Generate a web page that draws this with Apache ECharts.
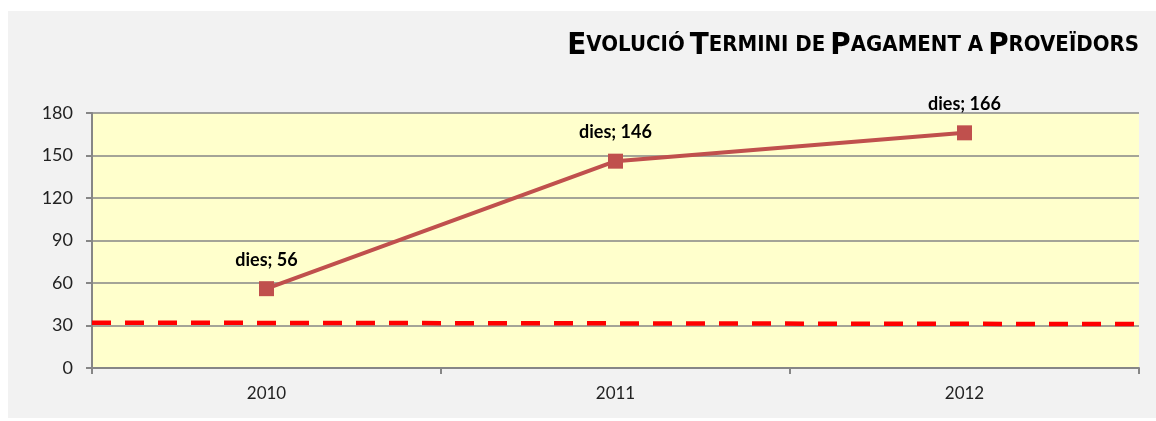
<!DOCTYPE html>
<html>
<head>
<meta charset="utf-8">
<script src="https://cdn.jsdelivr.net/npm/echarts@6/dist/echarts.min.js"></script>
<style>
  html, body { margin: 0; padding: 0; background: #ffffff; }
  #chart { width: 1156px; height: 421px; }
</style>
</head>
<body>
<div id="chart"></div>
<script>
// dades del gràfic
var years = ['2010', '2011', '2012'];
var dies = [56, 146, 166];
var yTicks = [0, 30, 60, 90, 120, 150, 180];
// línia de referència (discontínua vermella)
var refX = [0, 1];
var refY = [32, 31];

var titleFont = "'Liberation Sans Narrow', 'DejaVu Sans Condensed', Lato";

var myChart = echarts.init(document.getElementById('chart'));

var option = {
  backgroundColor: '#ffffff',
  animation: false,
  graphic: [{
    type: 'rect',
    z: -10,
    shape: { x: 8, y: 11, width: 1148, height: 407 },
    style: { fill: '#f2f2f2' }
  }],
  title: {
    right: 12,
    top: 25,
    text: '{b|E}{s|VOLUCIÓ} {b|T}{s|ERMINI DE} {b|P}{s|AGAMENT A} {b|P}{s|ROVEÏDORS}',
    textStyle: {
      rich: {
        b: { fontSize: 31, fontWeight: 'bold', fontFamily: titleFont, color: '#000' },
        s: { fontSize: 22, fontWeight: 'bold', fontFamily: titleFont, color: '#000' }
      }
    }
  },
  grid: [
    { left: 92, right: 17, top: 113, bottom: 53, show: true, backgroundColor: '#ffffcc', borderWidth: 0 },
    { left: 92, right: 13, top: 113, bottom: 53 }
  ],
  xAxis: [
    {
      type: 'category',
      gridIndex: 0,
      data: years,
      boundaryGap: true,
      axisLine: { lineStyle: { color: '#868686', width: 2 } },
      axisTick: { show: true, length: 6, lineStyle: { color: '#868686', width: 2 } },
      axisLabel: { color: '#222', fontSize: 17, fontFamily: 'Lato', margin: 17 }
    },
    { type: 'value', gridIndex: 1, min: 0, max: 1, show: false }
  ],
  yAxis: [
    {
      type: 'value',
      gridIndex: 0,
      min: 0,
      max: 180,
      interval: 30,
      axisLine: { show: true, lineStyle: { color: '#868686', width: 2 } },
      axisTick: { show: true, length: 6, lineStyle: { color: '#868686', width: 2 } },
      splitLine: { lineStyle: { color: '#868686', width: 1.5 } },
      axisLabel: {
        color: '#222', fontSize: 18, fontFamily: 'Lato', margin: 19,
        formatter: function (v) { return yTicks.indexOf(v) >= 0 ? String(v) : ''; }
      }
    },
    { type: 'value', gridIndex: 1, min: 0, max: 180, show: false }
  ],
  series: [
    {
      name: 'dies',
      type: 'line',
      xAxisIndex: 0,
      yAxisIndex: 0,
      data: dies,
      symbol: 'rect',
      symbolSize: 15,
      z: 5,
      itemStyle: { color: '#c0504d' },
      lineStyle: { color: '#c0504d', width: 4 },
      label: {
        show: true,
        position: 'top',
        distance: 12,
        formatter: 'dies; {c}',
        color: '#000',
        fontWeight: 'bold',
        fontSize: 18,
        fontFamily: 'Lato'
      }
    },
    {
      name: 'referència',
      type: 'line',
      xAxisIndex: 1,
      yAxisIndex: 1,
      data: refX.map(function (x, i) { return [x, refY[i]]; }),
      symbol: 'none',
      z: 4,
      lineStyle: { color: '#ff0000', width: 4.5, type: [19, 14] }
    }
  ]
};

myChart.setOption(option);
</script>
</body>
</html>
